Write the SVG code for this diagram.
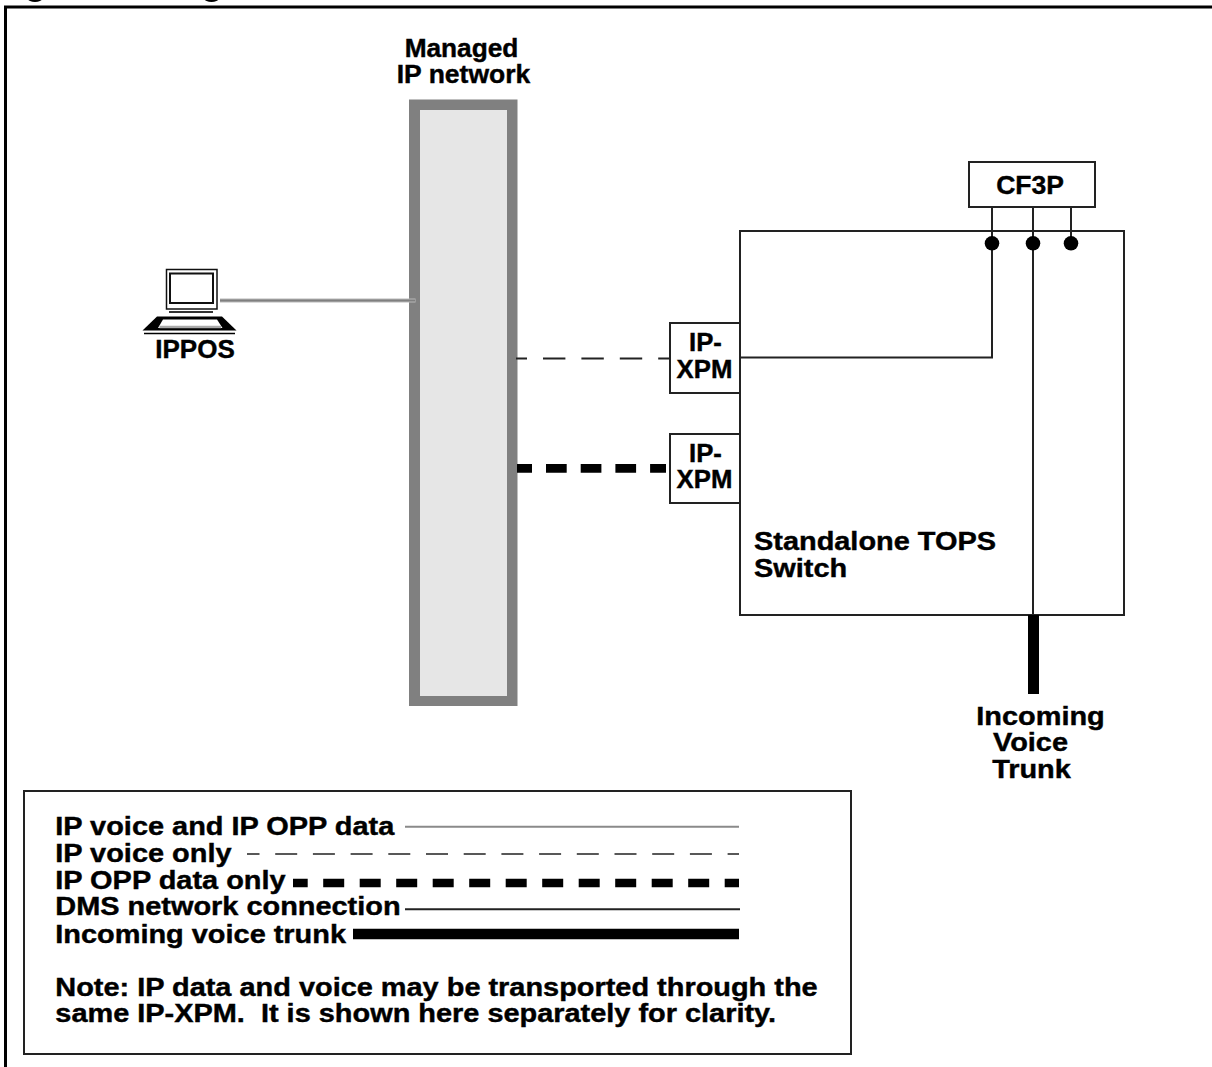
<svg xmlns="http://www.w3.org/2000/svg" width="1212" height="1067" viewBox="0 0 1212 1067">
<style>
text{font-family:"Liberation Sans",Arial,sans-serif;font-weight:700;font-size:25px;fill:#000;stroke:#000;stroke-width:.4px}
.m{text-anchor:middle}
.box{fill:#fff;stroke:#222;stroke-width:2}
.k{stroke:#222;stroke-width:2;fill:none}
.t{stroke:#222;stroke-width:1.700;fill:none}
.g{stroke:#8a8a8a;stroke-width:2;fill:none}
.thick{stroke:#000;fill:none}
</style>
<rect width="1212" height="1067" fill="#fff"/>
<g id="frame"><ellipse cx="35" cy="-1" rx="7" ry="3"/><ellipse cx="211.500" cy="-1" rx="7" ry="3"/><path d="M1212 7H5.500V1067" fill="none" stroke="#000" stroke-width="3"/></g>
<g id="network"><rect x="409" y="99.500" width="108.500" height="606.500" fill="#808080"/><rect x="420" y="110" width="87" height="586" fill="#e6e6e6"/>
<text class="m" transform="translate(461.500 56.500) scale(1.050 1)">Managed</text><text class="m" transform="translate(463.500 82.500) scale(1.060 1)">IP network</text></g>
<g id="switch"><rect class="box" x="740" y="231" width="384" height="384"/>
<g transform="translate(754 0) scale(1.157 1)"><text x="0" y="550.500">Standalone TOPS</text><text x="0" y="577">Switch</text></g></g>
<g id="connectors">
<path d="M220 300.500H415.500" stroke="#b8b8b8" stroke-width="4" fill="none"/>
<path d="M220 300.500H415" stroke="#7f7f7f" stroke-width="2" fill="none"/>
<path class="k" d="M516 358.500H670" stroke-dasharray="22.400 16" stroke-dashoffset="11.400"/>
<path class="thick" d="M517 468.300H666" stroke-width="8.700" stroke-dasharray="20.700 14" stroke-dashoffset="5.700"/>
<path class="k" d="M740 357.500H992V207"/>
<path class="k" d="M1033 207V615"/>
<path class="k" d="M1071 207V243"/>
<path class="thick" d="M1033.500 615V694" stroke-width="11"/>
<circle cx="992" cy="243.300" r="7.300"/><circle cx="1033" cy="243.300" r="7.300"/><circle cx="1071" cy="243.300" r="7.300"/>
</g>
<g id="cf3p"><rect class="box" x="969" y="162" width="126" height="45"/><text class="m" transform="translate(1030 194) scale(1.060 1)">CF3P</text></g>
<g id="xpm1"><rect class="box" x="670" y="323" width="70" height="70"/><text class="m" transform="translate(705.500 350.500) scale(1.030 1)">IP-</text><text class="m" transform="translate(704.500 377.500) scale(1.030 1)">XPM</text></g>
<g id="xpm2"><rect class="box" x="670" y="434" width="70" height="69"/><text class="m" transform="translate(705.500 461.500) scale(1.030 1)">IP-</text><text class="m" transform="translate(704.500 488) scale(1.030 1)">XPM</text></g>
<g id="ippos">
<rect x="166.500" y="269.500" width="50.500" height="39.500" fill="#fff" stroke="#111" stroke-width="1.500"/>
<rect x="170" y="273.500" width="43" height="29.500" fill="#fff" stroke="#111" stroke-width="2"/>
<rect x="169" y="311" width="44" height="2" fill="#333"/>
<path d="M157 316.500H222L236.500 330.500H142.500Z" fill="#000"/>
<path d="M163 319.500H217L222.500 328H158Z" fill="#fff"/>
<path d="M159.500 327H221" stroke="#aaa" stroke-width="2.500"/>
<path d="M144 333.500H235" stroke="#000" stroke-width="1.500"/>
<text class="m" transform="translate(195 358) scale(1.040 1)">IPPOS</text></g>
<g id="trunk-label"><text class="m" transform="translate(1040.500 725) scale(1.157 1)">Incoming</text><text class="m" transform="translate(1030.500 750.500) scale(1.157 1)">Voice</text><text class="m" transform="translate(1031.500 777.500) scale(1.157 1)">Trunk</text></g>
<g id="legend"><rect class="box" x="24" y="791" width="827" height="263"/>
<g transform="translate(55.300 0) scale(1.157 1)">
<text x="0" y="835.500">IP voice and IP OPP data</text>
<text x="0" y="862">IP voice only</text>
<text x="0" y="889">IP OPP data only</text>
<text x="0" y="915.500">DMS network connection</text>
<text x="0" y="943">Incoming voice trunk</text>
<text x="0" y="996">Note: IP data and voice may be transported through the</text>
<text x="0" y="1022.500" xml:space="preserve">same IP-XPM.  It is shown here separately for clarity.</text>
</g>
<path class="g" d="M405 826.700H739"/>
<path class="t" d="M247 854H739" stroke-dasharray="22 15.700" stroke-dashoffset="9.500"/>
<path class="thick" d="M293 883H739" stroke-width="8.300" stroke-dasharray="21 15.500" stroke-dashoffset="6.300"/>
<path class="k" d="M405 909.300H740"/>
<path class="thick" d="M353 934H739" stroke-width="10.300"/>
</g>
</svg>
